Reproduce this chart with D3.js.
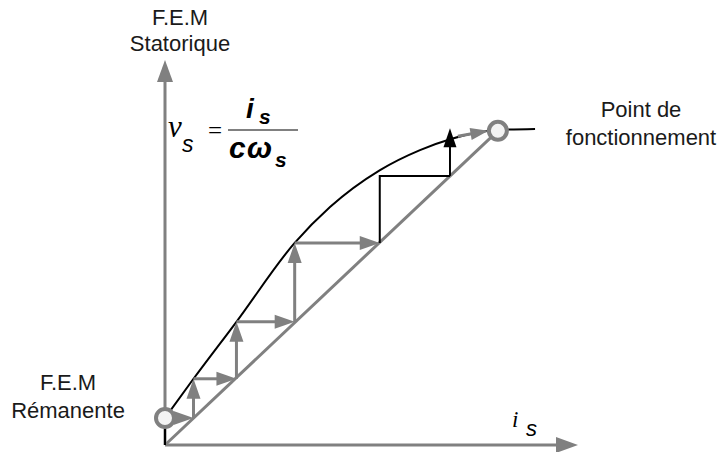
<!DOCTYPE html>
<html>
<head>
<meta charset="utf-8">
<title>F.E.M auto-amorcage</title>
<style>
  body { margin: 0; background: #fff; }
  text.lbl { font-family: "Liberation Sans", Arial, sans-serif; font-size: 22px; fill: #1a1a1a; }
  text.serif { font-family: "Liberation Serif", "Times New Roman", serif; font-style: italic; fill: #000; }
  text.math { font-family: "Liberation Sans", Arial, sans-serif; font-style: italic; fill: #000; }
</style>
</head>
<body>
<div id="chart"></div>
<script src="https://d3js.org/d3.v7.min.js"></script>
<script>
// courbe de magnetisation (unites arbitraires 0..100)
var curveX = [0, 0, 6.9, 17.3, 31.4, 39.95, 52.06, 61.74, 69.25, 80.63, 89.6];
var curveY = [0, 7.0, 17.2, 32.0, 52.5, 61.8, 71.4, 76.6, 79.5, 81.8, 82.1];

// point remanent et point de fonctionnement
var remX = 0, remY = 7.0;
var opX = 80.6, opY = 81.6;

// escalier gris (fleches)
var stepX = [0, 6.9, 6.9, 17.3, 17.3, 31.4, 31.4, 52.0];
var stepY = [7.0, 7.0, 17.2, 17.2, 32.0, 32.0, 52.5, 52.5];

// fin de l'escalier en noir
var blackX = [52.0, 52.0, 69.0, 69.0];
var blackY = [52.5, 69.9, 69.9, 82.3];

// derniere fleche grise vers le point de fonctionnement
var lastX = [70.9, 78.3];
var lastY = [80.2, 81.6];

var width = 723, height = 452;
var gray = '#808080';

var svg = d3.select('#chart').append('svg')
  .attr('width', width)
  .attr('height', height);

var x = d3.scaleLinear().domain([0, 100]).range([165, 578]);
var y = d3.scaleLinear().domain([0, 100]).range([445, 60]);

// fleche : ligne + triangle
function arrow(x1, y1, x2, y2, color, sw, len, wid) {
  var px1 = x(x1), py1 = y(y1), px2 = x(x2), py2 = y(y2);
  var dx = px2 - px1, dy = py2 - py1;
  var d = Math.sqrt(dx * dx + dy * dy);
  var ux = dx / d, uy = dy / d;
  var bx = px2 - ux * len, by = py2 - uy * len;
  svg.append('line')
    .attr('x1', px1).attr('y1', py1)
    .attr('x2', bx + ux * 1).attr('y2', by + uy * 1)
    .attr('stroke', color).attr('stroke-width', sw);
  svg.append('path')
    .attr('d', 'M' + px2 + ',' + py2 +
      'L' + (bx - uy * wid / 2) + ',' + (by + ux * wid / 2) +
      'L' + (bx + uy * wid / 2) + ',' + (by - ux * wid / 2) + 'Z')
    .attr('fill', color);
}

// axes
arrow(0, 0, 0, 100, gray, 3, 22, 16);
arrow(0, 0, 100, 0, gray, 3, 22, 16);

// droite de charge
svg.append('line')
  .attr('x1', x(0)).attr('y1', y(0))
  .attr('x2', x(opX)).attr('y2', y(opY))
  .attr('stroke', gray).attr('stroke-width', 3);

// courbe : segment vertical jusqu'au point remanent, puis lissee
var pts = curveX.map(function(d, i) { return [d, curveY[i]]; });
var lineLin = d3.line().x(d => x(d[0])).y(d => y(d[1]));
var lineSmooth = d3.line().x(d => x(d[0])).y(d => y(d[1])).curve(d3.curveMonotoneX);
svg.append('path')
  .attr('d', lineLin(pts.slice(0, 2)) + lineSmooth(pts.slice(1)))
  .attr('fill', 'none')
  .attr('stroke', '#000')
  .attr('stroke-width', 2);

// escalier gris
for (var i = 0; i < stepX.length - 1; i++) {
  arrow(stepX[i], stepY[i], stepX[i + 1], stepY[i + 1], gray, 3, 20, 14);
}

// escalier noir
svg.append('path')
  .attr('d', d3.line()([[x(blackX[0]), y(blackY[0])], [x(blackX[1]), y(blackY[1])], [x(blackX[2]), y(blackY[2])]]))
  .attr('fill', 'none').attr('stroke', '#000').attr('stroke-width', 2);
arrow(blackX[2], blackY[2], blackX[3], blackY[3], '#000', 2, 19, 13);

arrow(lastX[0], lastY[0], lastX[1], lastY[1], gray, 3, 18, 12);

// cercles
[[remX, remY], [opX, opY]].forEach(function(p) {
  svg.append('circle')
    .attr('cx', x(p[0])).attr('cy', y(p[1]))
    .attr('r', 9)
    .attr('fill', '#f3f3f3')
    .attr('stroke', gray)
    .attr('stroke-width', 4);
});

// etiquettes
function lbl(t, cx, by) {
  svg.append('text').attr('class', 'lbl')
    .attr('x', cx).attr('y', by)
    .attr('text-anchor', 'middle')
    .text(t);
}
lbl('F.E.M', 180, 25);
lbl('Statorique', 180, 51);
lbl('Point de', 641, 117);
lbl('fonctionnement', 641, 145);
lbl('F.E.M', 68, 390);
lbl('Rémanente', 68, 418);

// formule v_s = i_s / (c w_s)
svg.append('text').attr('class', 'serif').attr('x', 168).attr('y', 137)
  .style('font-size', '31px').text('v');
svg.append('text').attr('class', 'math').attr('x', 182).attr('y', 152)
  .style('font-size', '23px').text('s');
svg.append('text').attr('x', 208).attr('y', 139)
  .style('font-family', '"Liberation Serif", serif').style('font-size', '25px')
  .text('=');
svg.append('line')
  .attr('x1', 228).attr('x2', 298).attr('y1', 130).attr('y2', 130)
  .attr('stroke', gray).attr('stroke-width', 2);
svg.append('text').attr('class', 'math').attr('x', 246).attr('y', 118)
  .style('font-size', '28px').style('font-weight', 'bold').text('i');
svg.append('text').attr('class', 'math').attr('x', 259).attr('y', 124)
  .style('font-size', '21px').style('font-weight', 'bold').text('s');
svg.append('text').attr('class', 'math').attr('x', 229).attr('y', 158)
  .style('font-size', '30px').style('font-weight', 'bold').text('c');
svg.append('text').attr('class', 'math').attr('x', 247).attr('y', 158)
  .style('font-size', '30px').style('font-weight', 'bold').text('ω');
svg.append('text').attr('class', 'math').attr('x', 275).attr('y', 167)
  .style('font-size', '21px').style('font-weight', 'bold').text('s');

// libelle axe horizontal
svg.append('text').attr('class', 'serif').attr('x', 512).attr('y', 427)
  .style('font-size', '23px').text('i');
svg.append('text').attr('class', 'math').attr('x', 526).attr('y', 436)
  .style('font-size', '22px').text('s');
</script>
</body>
</html>
